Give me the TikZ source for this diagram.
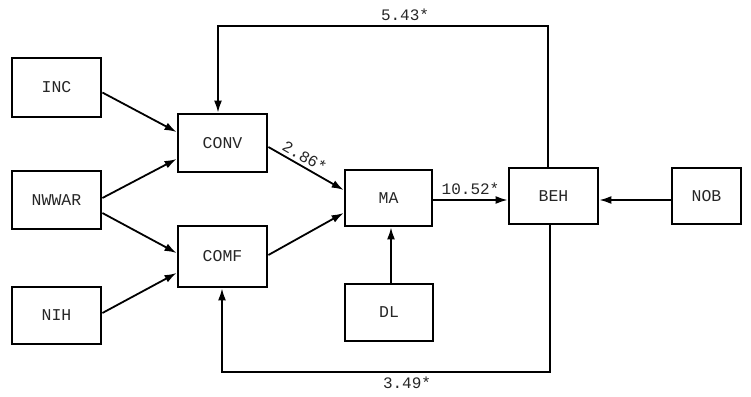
\documentclass[tikz,border=0pt]{standalone}
\usepackage{fontspec}
\setmonofont{Liberation Mono}
\usetikzlibrary{arrows.meta}
\begin{document}
\begin{tikzpicture}[x=1pt,y=-1pt,
  box/.style={draw,line width=2.8pt,inner sep=0pt,font=\ttfamily\fontsize{16.5}{18}\selectfont,text=black!85},
  conn/.style={line width=1.8pt,-{Latex[length=12pt,width=8pt]}},
  lbl/.style={font=\ttfamily\fontsize{16}{18}\selectfont,text=black!85,inner sep=0pt}]
\useasboundingbox (0,0) rectangle (751,396);
\node[box,minimum width=89pt,minimum height=59pt] (INC) at (56.5,87.5) {INC};
\node[box,minimum width=89pt,minimum height=58pt] (NWWAR) at (56.5,200) {NWWAR};
\node[box,minimum width=89pt,minimum height=57pt] (NIH) at (56.5,315.5) {NIH};
\node[box,minimum width=89pt,minimum height=58pt] (CONV) at (222.5,143) {CONV};
\node[box,minimum width=89pt,minimum height=61pt] (COMF) at (222.5,256.5) {COMF};
\node[box,minimum width=87pt,minimum height=56pt] (MA) at (388.5,198) {MA};
\node[box,minimum width=88pt,minimum height=57pt] (DL) at (389,312.5) {DL};
\node[box,minimum width=89pt,minimum height=56pt] (BEH) at (553.5,196) {BEH};
\node[box,minimum width=69pt,minimum height=56pt] (NOB) at (706.5,196) {NOB};
\coordinate (t2) at (218,26);
\coordinate (b2) at (222,372);
\draw[conn] ([yshift=-5pt]INC.east) -- ([yshift=11pt]CONV.west);
\draw[conn] ([yshift=2pt]NWWAR.east) -- ([yshift=-16pt]CONV.west);
\draw[conn] ([yshift=-13pt]NWWAR.east) -- ([yshift=3.5pt]COMF.west);
\draw[conn] ([yshift=2.5pt]NIH.east) -- ([yshift=-16.5pt]COMF.west);
\draw[conn] ([yshift=-4pt]CONV.east) -- node[lbl,sloped,above=3pt,pos=0.42] (l286) {2.86*} ([yshift=8pt]MA.west);
\draw[conn] ([yshift=1.5pt]COMF.east) -- ([yshift=-15pt]MA.west);
\draw[conn] ([yshift=-2pt]MA.east) -- node[lbl,above=4pt] (l1052) {10.52*} ([yshift=-4pt]BEH.west);
\draw[conn] ([yshift=-4pt]NOB.west) -- ([yshift=-4pt]BEH.east);
\draw[conn] ([xshift=2pt]DL.north) -- ([xshift=2.5pt]MA.south);
\draw[conn] ([xshift=-5.5pt]BEH.north) |- (t2) -- ([xshift=-4.5pt]CONV.north);
\draw[conn] ([xshift=-3.5pt]BEH.south) |- (b2) -- ([xshift=-0.5pt]COMF.south);
\node[lbl] (l543) at (405,15) {5.43*};
\node[lbl] (l349) at (407,383) {3.49*};
\end{tikzpicture}
\end{document}
